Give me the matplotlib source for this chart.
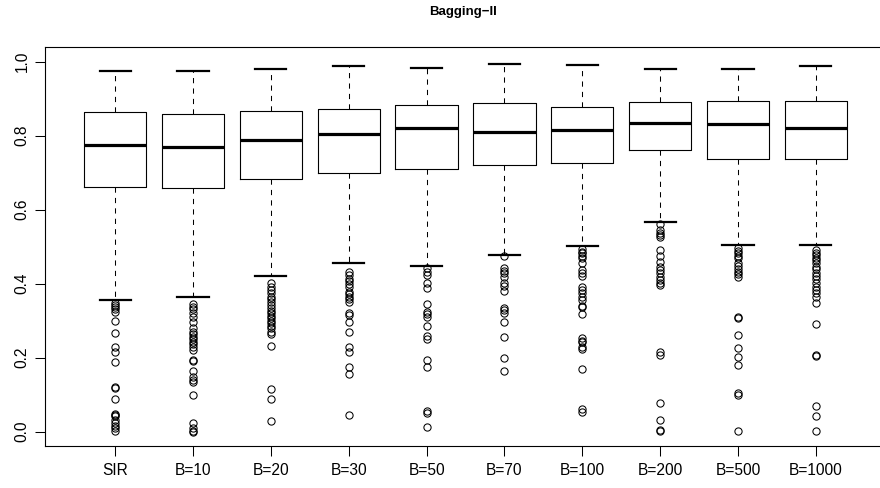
import matplotlib
matplotlib.use("Agg")
import matplotlib.pyplot as plt

plt.rcParams["font.family"] = ["Liberation Sans", "DejaVu Sans"]

title = "Bagging\u2212II"
labels = ["SIR", "B=10", "B=20", "B=30", "B=50", "B=70", "B=100", "B=200", "B=500", "B=1000"]

whishi = [0.975, 0.976, 0.980, 0.989, 0.983, 0.995, 0.990, 0.981, 0.981, 0.987]
q3 = [0.864, 0.859, 0.866, 0.873, 0.882, 0.887, 0.878, 0.891, 0.894, 0.895]
med = [0.775, 0.770, 0.788, 0.804, 0.822, 0.811, 0.816, 0.834, 0.832, 0.822]
q1 = [0.660, 0.658, 0.684, 0.699, 0.709, 0.721, 0.727, 0.761, 0.737, 0.737]
whislo = [0.356, 0.365, 0.422, 0.457, 0.449, 0.478, 0.502, 0.567, 0.504, 0.505]

out_sir = [0.347, 0.342, 0.338, 0.331, 0.323, 0.300, 0.266, 0.228, 0.216, 0.188,
           0.122, 0.118, 0.089, 0.047, 0.045, 0.041, 0.032, 0.024, 0.016, 0.009, 0.003]
out_b10 = [0.345, 0.338, 0.331, 0.320, 0.309, 0.295, 0.279, 0.270, 0.263, 0.257,
           0.250, 0.243, 0.237, 0.230, 0.221, 0.194, 0.191, 0.165, 0.149, 0.140,
           0.133, 0.099, 0.023, 0.009, 0.003, 0.000]
out_b20 = [0.401, 0.392, 0.383, 0.374, 0.365, 0.358, 0.351, 0.342, 0.333, 0.327,
           0.320, 0.313, 0.306, 0.300, 0.293, 0.286, 0.279, 0.270, 0.263, 0.232,
           0.114, 0.088, 0.030]
out_b30 = [0.432, 0.424, 0.412, 0.406, 0.399, 0.392, 0.378, 0.372, 0.363, 0.358,
           0.351, 0.322, 0.315, 0.297, 0.270, 0.228, 0.214, 0.176, 0.155, 0.045]
out_b50 = [0.442, 0.432, 0.424, 0.403, 0.388, 0.345, 0.324, 0.318, 0.311, 0.286,
           0.259, 0.250, 0.194, 0.174, 0.057, 0.051, 0.012]
out_b70 = [0.475, 0.442, 0.435, 0.428, 0.417, 0.401, 0.394, 0.381, 0.333, 0.329,
           0.322, 0.297, 0.257, 0.198, 0.165]
out_b100 = [0.493, 0.486, 0.482, 0.475, 0.469, 0.455, 0.437, 0.430, 0.421, 0.392,
            0.383, 0.374, 0.365, 0.356, 0.340, 0.336, 0.317, 0.252, 0.246, 0.241,
            0.228, 0.223, 0.169, 0.061, 0.054]
out_b200 = [0.561, 0.545, 0.538, 0.532, 0.527, 0.491, 0.475, 0.459, 0.446, 0.437,
            0.428, 0.417, 0.410, 0.403, 0.396, 0.216, 0.207, 0.078, 0.032, 0.005, 0.002]
out_b500 = [0.496, 0.489, 0.482, 0.475, 0.469, 0.455, 0.448, 0.439, 0.432, 0.426,
            0.419, 0.311, 0.307, 0.262, 0.227, 0.203, 0.180, 0.104, 0.099, 0.002]
out_b1000 = [0.491, 0.484, 0.478, 0.470, 0.464, 0.455, 0.446, 0.439, 0.430, 0.421,
             0.412, 0.401, 0.392, 0.383, 0.374, 0.365, 0.349, 0.291, 0.206, 0.204,
             0.068, 0.041, 0.002]
outliers = [out_sir, out_b10, out_b20, out_b30, out_b50, out_b70, out_b100,
            out_b200, out_b500, out_b1000]

stats = []
for i, lab in enumerate(labels):
    stats.append(dict(label=lab, med=med[i], q1=q1[i], q3=q3[i],
                      whislo=whislo[i], whishi=whishi[i], fliers=outliers[i]))

fig = plt.figure(figsize=(8.8, 4.88), dpi=100)
ax = fig.add_axes([45 / 880, 42.3 / 488, 841 / 880, 399.2 / 488])

positions = list(range(1, len(labels) + 1))
ax.bxp(stats, positions=positions, widths=0.8, showfliers=True, patch_artist=False,
       boxprops=dict(color="black", linewidth=0.8),
       medianprops=dict(color="black", linewidth=2.3, solid_capstyle="butt"),
       whiskerprops=dict(color="black", linewidth=0.75, linestyle=(0, (5, 5))),
       capprops=dict(color="black", linewidth=1.6),
       capwidths=0.4,
       flierprops=dict(marker="o", markerfacecolor="none", markeredgecolor="black",
                       markersize=5.2, markeredgewidth=0.75, linestyle="none"))

ax.set_xlim(0.1, 10.9)
ax.set_ylim(-0.038, 1.041)

ax.set_xticks(positions)
ax.set_xticklabels(labels, fontsize=11.2)
yt = [0.0, 0.2, 0.4, 0.6, 0.8, 1.0]
ax.set_yticks(yt)
ax.set_yticklabels([f"{v:.1f}" for v in yt], fontsize=11.2, rotation=90, va="center")

ax.tick_params(axis="both", direction="out", length=7.2, width=0.75, color="black")
ax.tick_params(axis="x", pad=5.5)
ax.tick_params(axis="y", pad=4.0)

for s in ax.spines.values():
    s.set_linewidth(0.8)
    s.set_color("black")

fig.text(463 / 880, 1 - 12 / 488, title, ha="center", va="center",
         fontsize=9.5, fontweight="bold")

fig.savefig("out.png", dpi=100)
